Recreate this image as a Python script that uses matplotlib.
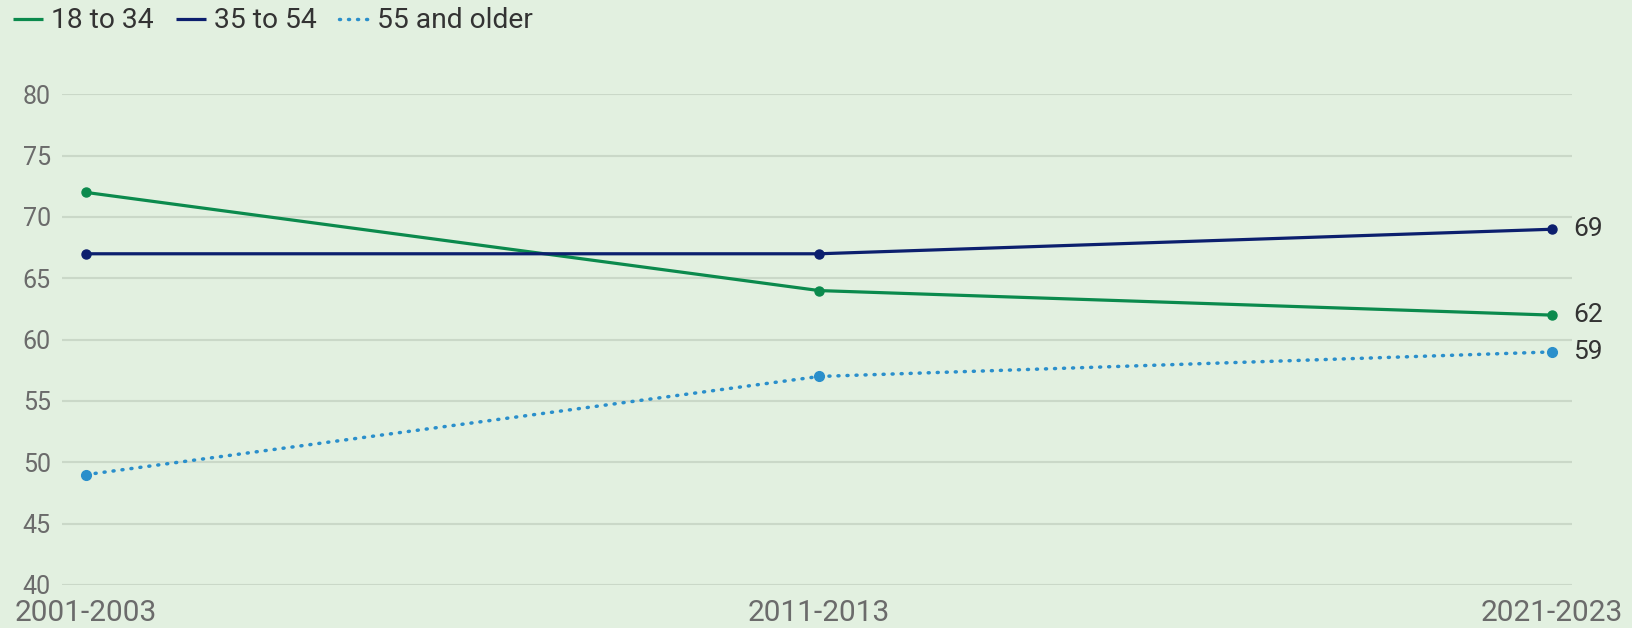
import numpy as np
import matplotlib as mpl
mpl.use("Agg")
import matplotlib.pyplot as plt

# data
periods = ['2001-2003', '2011-2013', '2021-2023']
young = [72, 64, 62]      # 18 to 34
middle = [67, 67, 69]     # 35 to 54
older = [49, 57, 59]      # 55 and older
series_names = ['18 to 34', '35 to 54', '55 and older']
y_ticks = [40, 45, 50, 55, 60, 65, 70, 75, 80]

bg = '#e2f0e0'
green = '#0b8a4d'
navy = '#0c1f6e'
blue = '#2a8fcb'

plt.rcParams['font.family'] = ['Roboto', 'DejaVu Sans']

fig = plt.figure(figsize=(16.33, 6.28), dpi=100, facecolor=bg)
ax = fig.add_axes([62/1633, 1-585/628, (1572-62)/1633, (585-94.3)/628])
ax.set_facecolor(bg)

x = np.arange(len(periods))
l1, = ax.plot(x, young, color=green, lw=2.3, marker='o', ms=6.5, label=series_names[0],
              solid_capstyle='butt')
l2, = ax.plot(x, middle, color=navy, lw=2.3, marker='o', ms=6.5, label=series_names[1],
              solid_capstyle='butt')
l3, = ax.plot(x, older, color=blue, lw=2.5, marker='o', ms=7, label=series_names[2],
              linestyle=(0, (0.3, 2.3)), dash_capstyle='round')

# end labels
for vals in (young, middle, older):
    ax.annotate(str(vals[-1]), (x[-1], vals[-1]), xytext=(15, 0), textcoords='offset points',
                va='center', ha='left', fontsize=19, color='#333333', annotation_clip=False)

ax.set_xlim(-0.033, 2.027)
ax.set_ylim(40, 80)
ax.set_yticks(y_ticks)
ax.set_xticks(x)
ax.set_xticklabels(periods)
ax.grid(axis='y', color='#cad8c8', lw=1.5)
ax.set_axisbelow(True)
for s in ax.spines.values():
    s.set_visible(False)
ax.tick_params(axis='both', length=0, labelcolor='#6b6b6b')
ax.tick_params(axis='y', pad=8, labelsize=18)
ax.tick_params(axis='x', pad=10, labelsize=21.5)

leg = fig.legend(handles=[l1, l2, l3], loc='center left', bbox_to_anchor=(13/1633, 1-21/628),
                 ncol=3, frameon=False, fontsize=20.3, handlelength=1.07, handletextpad=0.27,
                 columnspacing=0.8, borderaxespad=0.0, borderpad=0.0)
for t in leg.get_texts():
    t.set_color('#333333')
for h in leg.legend_handles:
    h.set_marker('')

plt.savefig('out.png', facecolor=bg)
